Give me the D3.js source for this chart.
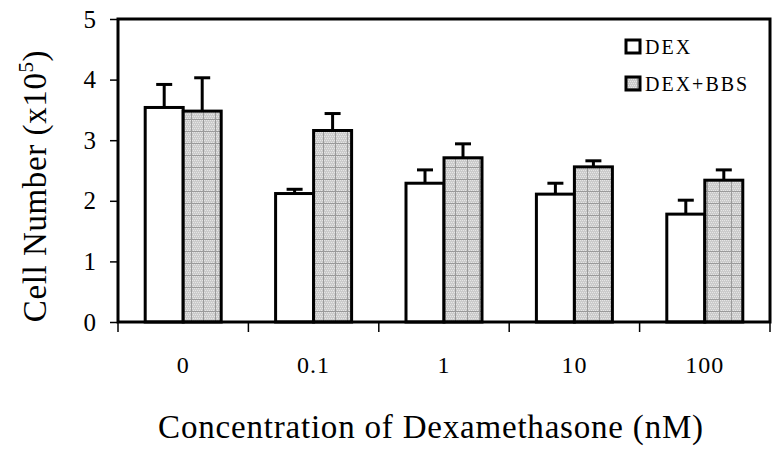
<!DOCTYPE html>
<html>
<head>
<meta charset="utf-8">
<script src="https://cdn.jsdelivr.net/npm/d3@7"></script>
<style>
  body { margin: 0; background: #fff; }
  text { font-family: "Liberation Serif", "Times New Roman", serif; fill: #000; }
</style>
</head>
<body>
<div id="chart"></div>
<script>
// data
var concentrations = ["0", "0.1", "1", "10", "100"];
var seriesNames = ["DEX", "DEX+BBS"];
var dexValues = [3.54, 2.12, 2.29, 2.11, 1.78];
var dexErrors = [0.38, 0.07, 0.22, 0.18, 0.23];
var bbsValues = [3.48, 3.16, 2.71, 2.56, 2.34];
var bbsErrors = [0.55, 0.28, 0.23, 0.10, 0.17];
var yTicks = [0, 1, 2, 3, 4, 5];

var svgWidth = 782,
  svgHeight = 452,
  plotLeft = 118,
  plotRight = 770,
  plotTop = 19,
  plotBottom = 322,
  barWidth = 38,
  capWidth = 16,
  lineW = 3;

var svg = d3.select("#chart")
  .append("svg")
  .attr("width", svgWidth)
  .attr("height", svgHeight);

// stippled grey fill with faint grid, like the print
var defs = svg.append("defs");
var pat = defs.append("pattern")
  .attr("id", "stipple")
  .attr("patternUnits", "userSpaceOnUse")
  .attr("width", 12)
  .attr("height", 12);
pat.append("rect").attr("width", 12).attr("height", 12).attr("fill", "#cbcbcb");
for (var px = 0; px < 12; px += 2) {
  for (var py = 0; py < 12; py += 2) {
    pat.append("rect")
      .attr("x", px + ((py / 2) % 2))
      .attr("y", py)
      .attr("width", 1).attr("height", 1)
      .attr("fill", "#e6e6e6");
  }
}
pat.append("rect").attr("x", 0).attr("y", 11).attr("width", 12).attr("height", 1).attr("fill", "#9a9a9a");
pat.append("rect").attr("x", 11).attr("y", 0).attr("width", 1).attr("height", 12).attr("fill", "#9a9a9a");

var x0 = d3.scaleBand()
  .domain(concentrations)
  .range([plotLeft, plotRight])
  .padding(0);

var x1 = d3.scaleBand()
  .domain(seriesNames)
  .range([x0.bandwidth() / 2 - barWidth, x0.bandwidth() / 2 + barWidth]);

var y = d3.scaleLinear()
  .domain([0, 5])
  .range([plotBottom, plotTop]);

var rows = concentrations.map(function(c, i) {
  return [
    { cat: c, s: "DEX", v: dexValues[i], e: dexErrors[i] },
    { cat: c, s: "DEX+BBS", v: bbsValues[i], e: bbsErrors[i] }
  ];
});
var flat = [].concat.apply([], rows);

function barMid(d) { return x0(d.cat) + x1(d.s) + x1.bandwidth() / 2; }

// error bars (drawn first so bars sit on top)
var err = svg.append("g");
err.selectAll("line.stem")
  .data(flat)
  .enter()
  .append("line")
  .attr("x1", barMid)
  .attr("x2", barMid)
  .attr("y1", function(d) { return y(d.v); })
  .attr("y2", function(d) { return y(d.v + d.e); })
  .attr("stroke", "#000")
  .attr("stroke-width", lineW);
err.selectAll("line.cap")
  .data(flat)
  .enter()
  .append("line")
  .attr("x1", function(d) { return barMid(d) - capWidth / 2; })
  .attr("x2", function(d) { return barMid(d) + capWidth / 2; })
  .attr("y1", function(d) { return y(d.v + d.e); })
  .attr("y2", function(d) { return y(d.v + d.e); })
  .attr("stroke", "#000")
  .attr("stroke-width", lineW);

svg.append("g").selectAll("rect")
  .data(flat)
  .enter()
  .append("rect")
  .attr("x", function(d) { return x0(d.cat) + x1(d.s); })
  .attr("y", function(d) { return y(d.v); })
  .attr("width", x1.bandwidth())
  .attr("height", function(d) { return y(0) - y(d.v); })
  .attr("fill", function(d) { return d.s === "DEX" ? "#fff" : "url(#stipple)"; })
  .attr("stroke", "#000")
  .attr("stroke-width", lineW);

// frame
svg.append("rect")
  .attr("x", plotLeft)
  .attr("y", plotTop)
  .attr("width", plotRight - plotLeft)
  .attr("height", plotBottom - plotTop)
  .attr("fill", "none")
  .attr("stroke", "#000")
  .attr("stroke-width", lineW);

// y axis
var yAxis = svg.append("g")
  .attr("transform", "translate(" + plotLeft + ",0)")
  .call(d3.axisLeft(y).tickValues(yTicks).tickFormat(d3.format("d")).tickSize(8).tickPadding(14));
yAxis.select(".domain").remove();
yAxis.selectAll("line").attr("stroke", "#000").attr("stroke-width", 1.5);
yAxis.selectAll("text")
  .attr("font-family", null)
  .style("font-family", "'Liberation Serif', serif")
  .style("font-size", "25px")
  .attr("fill", "#000");

// x axis: ticks on group boundaries, labels at centres
var boundaries = concentrations.map(function(c) { return x0(c); }).concat([plotRight]);
svg.append("g").selectAll("line")
  .data(boundaries)
  .enter()
  .append("line")
  .attr("x1", function(d) { return d; })
  .attr("x2", function(d) { return d; })
  .attr("y1", plotBottom)
  .attr("y2", plotBottom + 10)
  .attr("stroke", "#000")
  .attr("stroke-width", 1.5);

svg.append("g").selectAll("text")
  .data(concentrations)
  .enter()
  .append("text")
  .text(function(d) { return d; })
  .attr("x", function(d) { return x0(d) + x0.bandwidth() / 2; })
  .attr("y", 373)
  .style("font-size", "24px")
  .style("letter-spacing", "1px")
  .style("text-anchor", "middle");

// axis titles
svg.append("text")
  .attr("x", 431)
  .attr("y", 438)
  .style("font-size", "33px")
  .style("letter-spacing", "0.8px")
  .style("text-anchor", "middle")
  .text("Concentration of Dexamethasone (nM)");

var yTitle = svg.append("text")
  .attr("transform", "translate(46,186) rotate(-90)")
  .style("font-size", "33px")
  .style("letter-spacing", "0.6px")
  .style("text-anchor", "middle");
yTitle.append("tspan").text("Cell Number (x10");
yTitle.append("tspan").attr("dy", -13).style("font-size", "21px").text("5");
yTitle.append("tspan").attr("dy", 13).text(")");

// legend
var legend = svg.append("g").selectAll("g")
  .data(seriesNames)
  .enter()
  .append("g")
  .attr("transform", function(d, i) { return "translate(626," + (40 + i * 37) + ")"; });
legend.append("rect")
  .attr("width", 14)
  .attr("height", 13)
  .attr("fill", function(d, i) { return i === 0 ? "#fff" : "url(#stipple)"; })
  .attr("stroke", "#000")
  .attr("stroke-width", lineW);
legend.append("text")
  .attr("x", 19)
  .attr("y", 14)
  .style("font-size", "20px")
  .style("letter-spacing", "2px")
  .text(function(d) { return d; });
</script>
</body>
</html>
